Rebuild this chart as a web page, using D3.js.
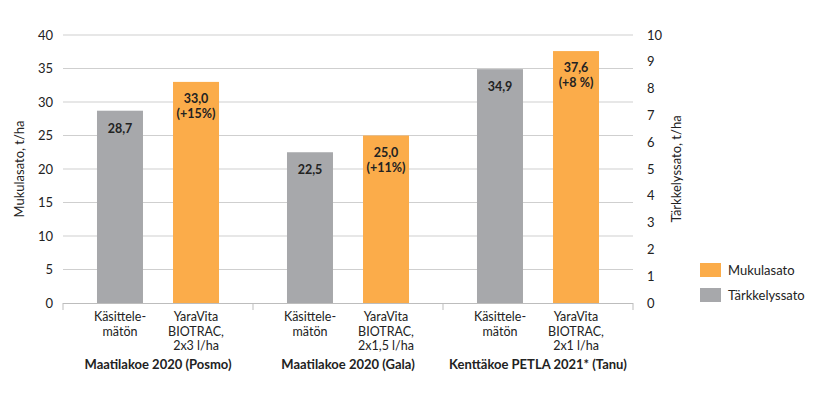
<!DOCTYPE html>
<html><head><meta charset="utf-8">
<script src="https://cdn.jsdelivr.net/npm/d3@7"></script>
<style>body{margin:0;background:#fff}svg{display:block}text{font-family:Lato,"Open Sans",sans-serif;fill:#222}</style>
</head><body><svg id="c" width="825" height="401"></svg>
<script>
const groups = ["Maatilakoe 2020 (Posmo)", "Maatilakoe 2020 (Gala)", "Kenttäkoe PETLA 2021* (Tanu)"];
const treatments = ["Käsittelemätön", "YaraVita"];
const untreated = [28.7, 22.5, 34.9];
const treated = [33.0, 25.0, 37.6];
const increase = ["(+15%)", "(+11%)", "(+8 %)"];
const treatedLabels = [["YaraVita","BIOTRAC,","2x3 l/ha"],["YaraVita","BIOTRAC,","2x1,5 l/ha"],["YaraVita","BIOTRAC,","2x1 l/ha"]];
const untreatedLabel = ["Käsittele-","mätön"];
const leftTicks = [0,5,10,15,20,25,30,35,40];
const rightTicks = [0,1,2,3,4,5,6,7,8,9,10];
const legendItems = ["Mukulasato","Tärkkelyssato"];

const ORANGE="#FBAC4A", GRAY="#A7A8AB";
const svg=d3.select("#c");
const L=63,R=633,T=35,B=303;
const x0=d3.scaleBand().domain(groups).range([L,R]);
const x1=d3.scaleBand().domain(treatments).range([0,x0.bandwidth()]).paddingInner(0.395).paddingOuter(0.447);
const y=d3.scaleLinear().domain([0,40]).range([B,T]);
const y2=d3.scaleLinear().domain([0,10]).range([B,T]);

// grid
svg.append("g").selectAll("line").data(leftTicks.filter(d=>d>0)).join("line")
 .attr("x1",L).attr("x2",R).attr("y1",d=>y(d)).attr("y2",d=>y(d))
 .attr("stroke","#cfcfcf").attr("stroke-width",1);

// left axis labels
svg.append("g").selectAll("text").data(leftTicks).join("text")
 .attr("x",53).attr("y",d=>y(d)).attr("dy","0.35em").attr("text-anchor","end")
 .style("font-size","13px").text(d=>d);
svg.append("g").selectAll("text").data(rightTicks).join("text")
 .attr("x",647).attr("y",d=>y2(d)).attr("dy","0.35em").attr("text-anchor","start")
 .style("font-size","13px").text(d=>d);

svg.append("text").attr("transform",`translate(24,${(T+B)/2}) rotate(-90)`).attr("text-anchor","middle")
 .style("font-size","13px").text("Mukulasato, t/ha");
svg.append("text").attr("transform",`translate(676,${(T+B)/2}) rotate(-90)`).attr("text-anchor","middle")
 .attr("dy","0.35em").style("font-size","13px").text("Tärkkelyssato, t/ha");

// bars
const data=groups.map((g,i)=>({g,i,vals:[{t:treatments[0],v:untreated[i],c:GRAY},{t:treatments[1],v:treated[i],c:ORANGE}]}));
const gg=svg.append("g").selectAll("g").data(data).join("g").attr("transform",d=>`translate(${x0(d.g)},0)`);
gg.selectAll("rect").data(d=>d.vals).join("rect")
 .attr("x",d=>x1(d.t)).attr("width",x1.bandwidth())
 .attr("y",d=>y(d.v)).attr("height",d=>B-y(d.v)).attr("fill",d=>d.c);
// value labels
gg.each(function(d){
  const g=d3.select(this);
  const cx0=x1(treatments[0])+x1.bandwidth()/2, cx1=x1(treatments[1])+x1.bandwidth()/2;
  g.append("text").attr("x",cx0).attr("y",y(untreated[d.i])+22).attr("text-anchor","middle")
   .style("font-size","12.5px").style("font-weight","bold").text(d3.format(".1f")(untreated[d.i]).replace(".",","));
  g.append("text").attr("x",cx1).attr("y",y(treated[d.i])+21).attr("text-anchor","middle")
   .style("font-size","12.5px").style("font-weight","bold").text(d3.format(".1f")(treated[d.i]).replace(".",","));
  g.append("text").attr("x",cx1).attr("y",y(treated[d.i])+36).attr("text-anchor","middle")
   .style("font-size","12.5px").style("font-weight","bold").text(increase[d.i]);
  untreatedLabel.forEach((s,k)=>g.append("text").attr("x",cx0).attr("y",321+k*14.5).attr("text-anchor","middle").style("font-size","12.5px").text(s));
  treatedLabels[d.i].forEach((s,k)=>g.append("text").attr("x",cx1).attr("y",321+k*14.5).attr("text-anchor","middle").style("font-size","12.5px").text(s));
  g.append("text").attr("x",x0.bandwidth()/2).attr("y",369).attr("text-anchor","middle")
   .style("font-size","13px").style("font-weight","bold").text(d.g);
});

// x axis
svg.append("line").attr("x1",L).attr("x2",R).attr("y1",B+0.5).attr("y2",B+0.5).attr("stroke","#bdbdbd");
svg.append("g").selectAll("line").data([...groups.map(g=>x0(g)),R]).join("line")
 .attr("x1",d=>d).attr("x2",d=>d).attr("y1",B).attr("y2",B+7).attr("stroke","#bdbdbd");

// legend
const lg=svg.append("g").selectAll("g").data(legendItems).join("g").attr("transform",(d,i)=>`translate(700,${263+i*25})`);
lg.append("rect").attr("width",21).attr("height",14).attr("fill",(d,i)=>i?GRAY:ORANGE);
lg.append("text").attr("x",28).attr("y",7).attr("dy","0.35em").style("font-size","13px").text(d=>d);
</script></body></html>
